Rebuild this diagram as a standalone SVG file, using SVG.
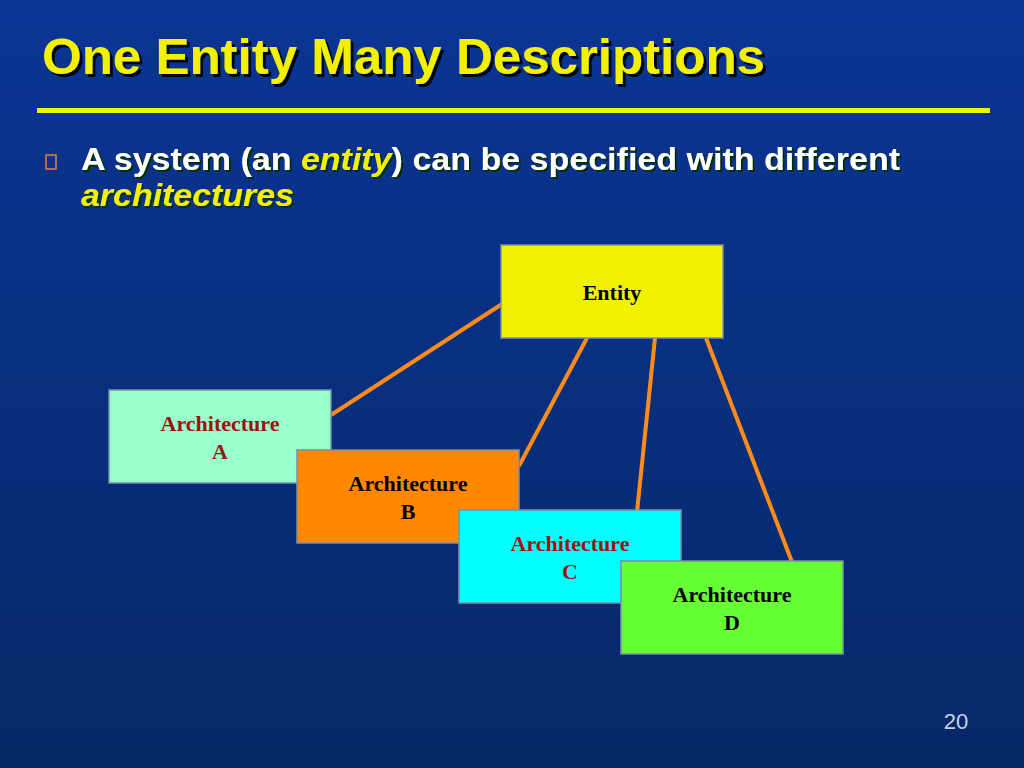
<svg xmlns="http://www.w3.org/2000/svg" width="1024" height="768" viewBox="0 0 1024 768">
<defs>
<linearGradient id="bg" x1="0" y1="0" x2="0" y2="1"><stop offset="0" stop-color="#0b3596"/><stop offset="1" stop-color="#062866"/></linearGradient>
<filter id="sh" x="-5%" y="-20%" width="110%" height="140%"><feDropShadow dx="3" dy="3" stdDeviation="0.5" flood-color="#000" flood-opacity="0.9"/></filter>
<filter id="shg" x="-5%" y="-20%" width="110%" height="140%"><feDropShadow dx="2" dy="2" stdDeviation="0.4" flood-color="#003300" flood-opacity="1"/></filter>
<style>
.t{font-family:"Liberation Sans",Arial,sans-serif;font-weight:bold}
.n{font-family:"Liberation Serif","Times New Roman",serif;font-weight:bold;font-size:22px;text-anchor:middle}
.box{stroke:#7a8fa8;stroke-width:1.5}
.c{stroke:#ff8c1a;stroke-width:4;fill:none}
</style>
</defs>
<rect width="1024" height="768" fill="url(#bg)"/>
<text class="t" x="42" y="74" font-size="50" fill="#f2f200" textLength="723" lengthAdjust="spacingAndGlyphs" filter="url(#sh)">One Entity Many Descriptions</text>
<rect x="37" y="108" width="953" height="5" fill="#f2f200"/>
<rect x="46" y="155" width="10" height="14" fill="none" stroke="#e08040" stroke-width="1.5"/>
<g class="t" font-size="31" filter="url(#shg)">
<text x="81" y="170" fill="#fff" textLength="819" lengthAdjust="spacingAndGlyphs">A system (an <tspan font-style="italic" fill="#f2f200">entity</tspan>) can be specified with different</text>
<text x="81" y="206" fill="#f2f200" font-style="italic" textLength="213" lengthAdjust="spacingAndGlyphs">architectures</text>
</g>
<g id="connectors">
<line class="c" x1="502" y1="304" x2="331" y2="415"/>
<line class="c" x1="587" y1="338" x2="519" y2="466"/>
<line class="c" x1="655" y1="338" x2="637" y2="512"/>
<line class="c" x1="706" y1="338" x2="792" y2="562"/>
</g>
<g id="entity"><rect class="box" x="501" y="245" width="222" height="93" fill="#f2f200"/><text class="n" x="612" y="300" font-size="20" fill="#000">Entity</text></g>
<g id="archA"><rect class="box" x="109" y="390" width="222" height="93" fill="#99ffcc"/><text class="n" x="220" y="431" fill="#a01010">Architecture</text><text class="n" x="220" y="459" fill="#a01010">A</text></g>
<g id="archB"><rect class="box" x="297" y="450" width="222" height="93" fill="#ff8800"/><text class="n" x="408" y="491" fill="#000">Architecture</text><text class="n" x="408" y="519" fill="#000">B</text></g>
<g id="archC"><rect class="box" x="459" y="510" width="222" height="93" fill="#00ffff"/><text class="n" x="570" y="551" fill="#a01010">Architecture</text><text class="n" x="570" y="579" fill="#a01010">C</text></g>
<g id="archD"><rect class="box" x="621" y="561" width="222" height="93" fill="#66ff33"/><text class="n" x="732" y="602" fill="#000">Architecture</text><text class="n" x="732" y="630" fill="#000">D</text></g>
<text x="956" y="729" font-family="Liberation Sans,Arial,sans-serif" font-size="22" fill="#c8d0e8" text-anchor="middle">20</text>
</svg>
